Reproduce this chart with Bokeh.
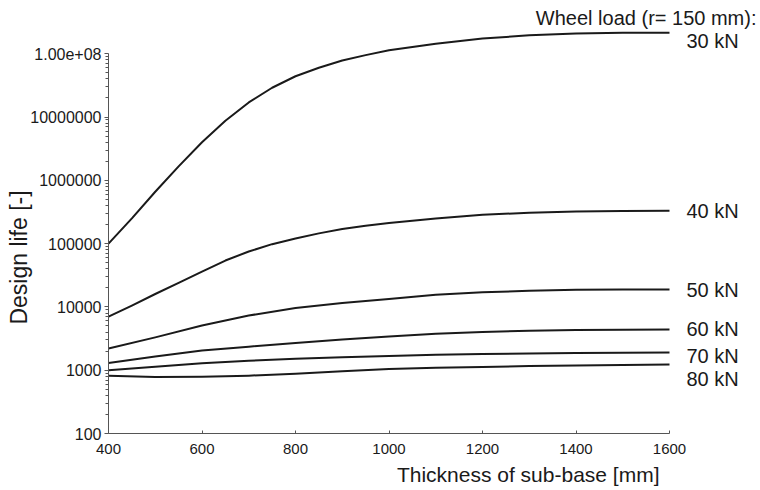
import math

from bokeh.plotting import figure
from bokeh.models import Range1d, FixedTicker, CustomJSTickFormatter, Label
from bokeh.embed import file_html
from bokeh.resources import INLINE

# Sub-base thickness [mm]
thickness_fine = [400, 450, 500, 550, 600, 650, 700, 750, 800, 850, 900, 950,
                  1000, 1100, 1200, 1300, 1400, 1500, 1600]
thickness = [400, 500, 600, 700, 800, 900, 1000, 1100, 1200, 1300, 1400, 1500, 1600]

# Design life [-] per wheel load (r = 150 mm)
life_30kN = [1.0e5, 2.5e5, 6.6e5, 1.66e6, 4.0e6, 8.7e6, 1.7e7, 2.9e7, 4.4e7, 6.0e7,
             7.8e7, 9.5e7, 1.13e8, 1.44e8, 1.74e8, 1.95e8, 2.08e8, 2.14e8, 2.15e8]
life_40kN = [7.0e3, 1.05e4, 1.6e4, 2.4e4, 3.6e4, 5.4e4, 7.5e4, 9.8e4, 1.2e5, 1.45e5,
             1.7e5, 1.92e5, 2.12e5, 2.5e5, 2.85e5, 3.08e5, 3.2e5, 3.27e5, 3.3e5]
life_50kN = [2.2e3, 3.3e3, 5.1e3, 7.3e3, 9.6e3, 1.15e4, 1.33e4, 1.55e4, 1.7e4,
             1.8e4, 1.87e4, 1.88e4, 1.88e4]
life_60kN = [1.3e3, 1.65e3, 2.05e3, 2.35e3, 2.7e3, 3.05e3, 3.4e3, 3.75e3, 4.0e3,
             4.2e3, 4.3e3, 4.35e3, 4.4e3]
life_70kN = [1.0e3, 1.13e3, 1.29e3, 1.41e3, 1.52e3, 1.6e3, 1.68e3, 1.75e3, 1.8e3,
             1.84e3, 1.87e3, 1.89e3, 1.9e3]
life_80kN = [8.2e2, 7.8e2, 7.9e2, 8.2e2, 8.8e2, 9.6e2, 1.04e3, 1.09e3, 1.12e3,
             1.16e3, 1.19e3, 1.21e3, 1.23e3]

load_labels = ["30 kN", "40 kN", "50 kN", "60 kN", "70 kN", "80 kN"]
header = "Wheel load (r= 150 mm):"
x_title = "Thickness of sub-base [mm]"
y_title = "Design life [-]"

x_ticks = [400, 600, 800, 1000, 1200, 1400, 1600]
y_ticks = [1e2, 1e3, 1e4, 1e5, 1e6, 1e7, 1e8]
y_minor = [m * 10 ** e for e in range(2, 8) for m in range(2, 10)]

FONT = "Liberation Sans"
INK = "#1a1a1a"
AXIS = "#555555"

# Canvas geometry: the axes sit inside a full-canvas frame so that the
# curve labels to the right of the axes are not clipped.
W, H = 760, 490
AX_LEFT, AX_RIGHT, AX_BOTTOM = 108, 669, 433      # pixel position of the axes box
PX_PER_DECADE = 63.3
x0, x1 = x_ticks[0], x_ticks[-1]
mm_per_px = (x1 - x0) / (AX_RIGHT - AX_LEFT)
x_start = x0 - AX_LEFT * mm_per_px
x_end = x1 + (W - AX_RIGHT) * mm_per_px
y_start = 10 ** (math.log10(y_ticks[0]) - (H - AX_BOTTOM) / PX_PER_DECADE)
y_end = 10 ** (math.log10(y_ticks[0]) + AX_BOTTOM / PX_PER_DECADE)

p = figure(width=W, height=H, x_range=Range1d(x_start, x_end),
           y_range=Range1d(y_start, y_end), y_axis_type="log",
           output_backend="svg", toolbar_location=None,
           min_border=0, min_border_left=0, min_border_right=0,
           min_border_top=0, min_border_bottom=0)

p.outline_line_color = None
p.xgrid.visible = False
p.ygrid.visible = False
p.background_fill_color = "white"
p.border_fill_color = "white"

# x axis
xa = p.xaxis[0]
xa.fixed_location = y_ticks[0]
xa.bounds = (x0, x1)
xa.ticker = FixedTicker(ticks=x_ticks)
xa.major_tick_in = 3
xa.major_tick_out = 0
xa.minor_tick_line_color = None
xa.major_label_standoff = 10
xa.major_label_text_font = FONT
xa.major_label_text_font_size = "15px"
xa.major_label_text_color = INK
xa.axis_line_color = AXIS
xa.major_tick_line_color = AXIS

# y axis
ya = p.yaxis[0]
ya.fixed_location = x0
ya.bounds = (y_ticks[0], y_ticks[-1])
ya.ticker = FixedTicker(ticks=y_ticks, minor_ticks=y_minor)
ya.formatter = CustomJSTickFormatter(code="""
    if (tick >= 1e8) { return tick.toExponential(2).replace("e+", "e+0"); }
    return tick.toFixed(0);
""")
ya.major_tick_in = 0
ya.major_tick_out = 4
ya.minor_tick_in = 0
ya.minor_tick_out = 3
ya.major_label_standoff = 3
ya.major_label_text_font = FONT
ya.major_label_text_font_size = "16px"
ya.major_label_text_color = INK
ya.axis_line_color = AXIS
ya.major_tick_line_color = AXIS
ya.minor_tick_line_color = AXIS

series = [
    (thickness_fine, life_30kN),
    (thickness_fine, life_40kN),
    (thickness, life_50kN),
    (thickness, life_60kN),
    (thickness, life_70kN),
    (thickness, life_80kN),
]
label_shift = [-8, 0, 0, 0, -3, -14]

for (xs, ys), text, dy in zip(series, load_labels, label_shift):
    p.line(xs, ys, line_color=INK, line_width=2, line_join="round")
    p.add_layout(Label(x=xs[-1], y=ys[-1], text=text, x_offset=17, y_offset=dy,
                       text_align="left", text_baseline="middle",
                       text_font=FONT, text_font_size="20px", text_color=INK))

p.add_layout(Label(x=thickness_fine[-1], y=life_30kN[-1], text=header,
                   x_offset=87, y_offset=15, text_align="right",
                   text_baseline="middle", text_font=FONT,
                   text_font_size="20px", text_color=INK))

p.add_layout(Label(x=x1, y=y_ticks[0], text=x_title,
                   x_offset=-10, y_offset=-41, text_align="right",
                   text_baseline="middle", text_font=FONT,
                   text_font_size="21px", text_color=INK))

p.add_layout(Label(x=x0, y=y_ticks[0], text=y_title, angle=math.pi / 2,
                   x_offset=-90, y_offset=176, text_align="center",
                   text_baseline="middle", text_font=FONT,
                   text_font_size="23px", text_color=INK))

open("out.html", "w").write(file_html(p, INLINE))
